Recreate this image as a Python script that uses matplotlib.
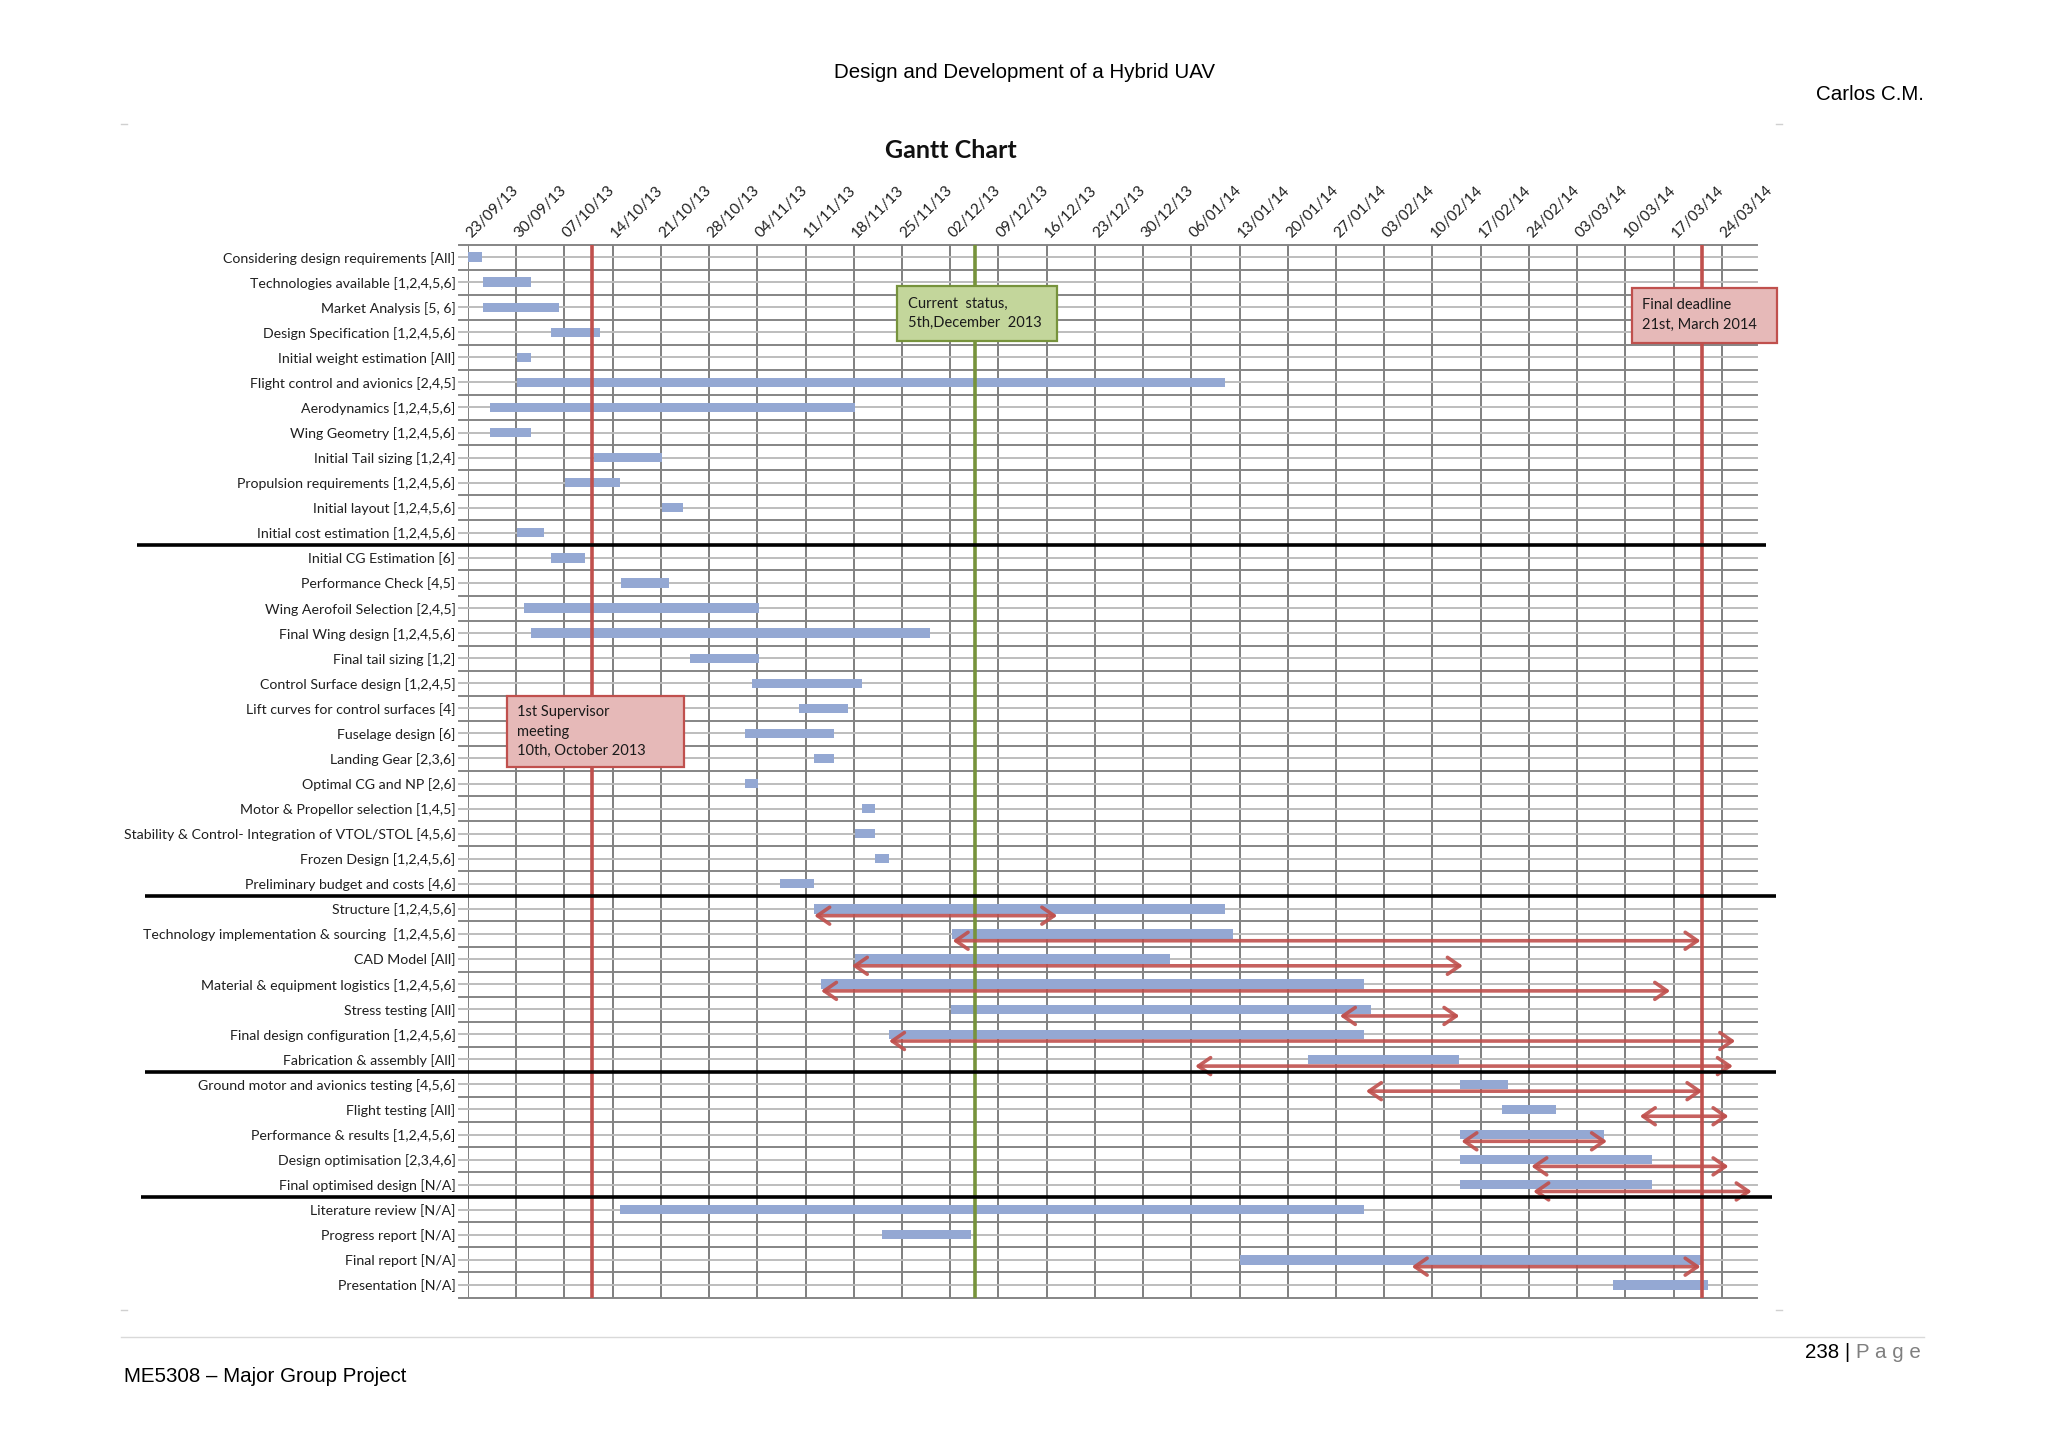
import matplotlib.pyplot as plt
from matplotlib.patches import Rectangle
from matplotlib.lines import Line2D
from matplotlib.transforms import ScaledTranslation

# week columns (weeks counted from 23/09/13)
week_labels = ['23/09/13', '30/09/13', '07/10/13', '14/10/13', '21/10/13', '28/10/13',
               '04/11/13', '11/11/13', '18/11/13', '25/11/13', '02/12/13', '09/12/13',
               '16/12/13', '23/12/13', '30/12/13', '06/01/14', '13/01/14', '20/01/14',
               '27/01/14', '03/02/14', '10/02/14', '17/02/14', '24/02/14', '03/03/14',
               '10/03/14', '17/03/14', '24/03/14']

tasks = [
    'Considering design requirements [All]',
    'Technologies available [1,2,4,5,6]',
    'Market Analysis [5, 6]',
    'Design Specification [1,2,4,5,6]',
    'Initial weight estimation [All]',
    'Flight control and avionics [2,4,5]',
    'Aerodynamics [1,2,4,5,6]',
    'Wing Geometry [1,2,4,5,6]',
    'Initial Tail sizing [1,2,4]',
    'Propulsion requirements [1,2,4,5,6]',
    'Initial layout [1,2,4,5,6]',
    'Initial cost estimation [1,2,4,5,6]',
    'Initial CG Estimation [6]',
    'Performance Check [4,5]',
    'Wing Aerofoil Selection [2,4,5]',
    'Final Wing design [1,2,4,5,6]',
    'Final tail sizing [1,2]',
    'Control Surface design [1,2,4,5]',
    'Lift curves for control surfaces [4]',
    'Fuselage design [6]',
    'Landing Gear [2,3,6]',
    'Optimal CG and NP [2,6]',
    'Motor & Propellor selection [1,4,5]',
    'Stability & Control- Integration of VTOL/STOL [4,5,6]',
    'Frozen Design [1,2,4,5,6]',
    'Preliminary budget and costs [4,6]',
    'Structure [1,2,4,5,6]',
    'Technology implementation & sourcing  [1,2,4,5,6]',
    'CAD Model [All]',
    'Material & equipment logistics [1,2,4,5,6]',
    'Stress testing [All]',
    'Final design configuration [1,2,4,5,6]',
    'Fabrication & assembly [All]',
    'Ground motor and avionics testing [4,5,6]',
    'Flight testing [All]',
    'Performance & results [1,2,4,5,6]',
    'Design optimisation [2,3,4,6]',
    'Final optimised design [N/A]',
    'Literature review [N/A]',
    'Progress report [N/A]',
    'Final report [N/A]',
    'Presentation [N/A]',
]

bar_start = [0.00, 0.31, 0.31, 1.72, 1.01, 1.01, 0.45, 0.45, 2.61, 2.02, 4.03, 1.01,
             1.72, 3.17, 1.17, 1.31, 4.61, 5.88, 6.87, 5.74, 7.18, 5.74, 8.17, 8.03,
             8.45, 6.46, 7.18, 10.03, 8.03, 7.32, 10.02, 8.73, 17.42, 20.58, 21.44,
             20.58, 20.58, 20.58, 3.16, 8.59, 16.01, 23.74]
bar_end = [0.30, 1.30, 1.88, 2.74, 1.30, 15.69, 8.03, 1.30, 4.02, 3.16, 4.46, 1.58,
           2.43, 4.16, 6.03, 9.59, 6.03, 8.17, 7.87, 7.59, 7.59, 6.02, 8.45, 8.45,
           8.72, 7.18, 15.69, 15.87, 14.55, 18.58, 18.73, 18.58, 20.56, 21.57, 22.56,
           23.55, 24.55, 24.55, 18.58, 10.44, 25.56, 25.72]

# red double arrows (row index, start week, end week)
arrow_rows = [26, 27, 28, 29, 30, 31, 32, 33, 34, 35, 36, 37, 40]
arrow_start = [7.18, 10.05, 7.96, 7.32, 18.08, 8.73, 15.08, 18.62, 24.30, 20.60, 22.05, 22.09, 19.57]
arrow_end = [12.22, 25.56, 20.63, 24.93, 20.56, 26.28, 26.23, 25.60, 26.14, 23.62, 26.14, 26.62, 25.56]

# milestones
milestone_week = [2.57, 10.51, 25.59]
milestone_text = ['1st Supervisor\nmeeting\n10th, October 2013',
                  'Current  status,\n5th,December  2013',
                  'Final deadline\n21st, March 2014']

section_breaks = [11.5, 25.5, 32.5, 37.5]

W, H = 2048, 1448


def fx(px):
    return px / W


def fy(py):
    return 1 - py / H


BLUE = '#94A8D3'
RED = '#C0504D'
GREEN = '#77933C'
LABEL = '#1f1f1f'

fig = plt.figure(figsize=(20.48, 14.48), dpi=100)
fig.patch.set_facecolor('white')

x_left, x_right = 468, 1757
y_top, y_bot = 244.5, 1297.5
ax = fig.add_axes([fx(x_left), fy(y_bot), (x_right - x_left) / W, (y_bot - y_top) / H])
n = len(tasks)
xmax = 26.73
ax.set_xlim(0, xmax)
ax.set_ylim(n - 0.5, -0.5)

# grid
ax.set_xticks(range(len(week_labels)))
ax.set_xticklabels(week_labels, rotation=45, ha='left', rotation_mode='anchor',
                   fontsize=11, family='Lato', color=LABEL)
ax.xaxis.tick_top()
ax.tick_params(axis='x', length=0, pad=3)
shift = ScaledTranslation(4 / 72, 0, fig.dpi_scale_trans)
for lbl in ax.get_xticklabels():
    lbl.set_transform(lbl.get_transform() + shift)
ax.grid(axis='x', color='#7F7F7F', lw=1.4, zorder=0)
ax.set_axisbelow(True)

ax.set_yticks(range(n))
ax.set_yticklabels(tasks, fontsize=10.2, family='Lato', color=LABEL)
ax.tick_params(axis='y', length=0, pad=9)
for s in ax.spines.values():
    s.set_visible(False)

ytr = ax.get_yaxis_transform()
for i in range(n + 1):
    ax.plot([-0.007, 1], [i - 0.5] * 2, transform=ytr, color='#858585', lw=1.4,
            zorder=1, clip_on=False)
for i in range(n):
    ax.plot([-0.007, 1], [i] * 2, transform=ytr, color='#BDBDBD', lw=1.4,
            zorder=1, clip_on=False)

# bars
widths = [e - s for s, e in zip(bar_start, bar_end)]
ax.barh(range(n), widths, left=bar_start, height=0.37, color=BLUE, zorder=3)

# milestone lines
for w, c in zip(milestone_week, [RED, GREEN, RED]):
    ax.axvline(w, color=c, lw=2.6, zorder=4)

# arrows
for r, s, e in zip(arrow_rows, arrow_start, arrow_end):
    ax.annotate('', xy=(e, r + 0.27), xytext=(s, r + 0.27),
                arrowprops=dict(arrowstyle='<->,head_length=0.55,head_width=0.38',
                                color=RED, lw=2.6, shrinkA=0, shrinkB=0,
                                mutation_scale=16, alpha=0.9),
                zorder=5, annotation_clip=False)

# milestone boxes
box_width = [3.68, 3.31, 3.02]
box_rows = [(17.51, 20.34), (1.16, 3.35), (1.22, 3.42)]
box_face = ['#E6B9B8', '#C3D69B', '#E6B9B8']
box_edge = [RED, GREEN, RED]
box_shift = [0.07, 0.05, 0.05]
for w, txt, bw, (t, b), fc, ec, sh in zip(milestone_week, milestone_text, box_width,
                                          box_rows, box_face, box_edge, box_shift):
    x0 = w - bw / 2 + sh
    ax.add_patch(Rectangle((x0, t), bw, b - t, facecolor=fc, edgecolor=ec, lw=1.6,
                           zorder=6, clip_on=False))
    ax.text(x0 + 0.22, (t + b) / 2, txt, ha='left', va='center', fontsize=10.5,
            family='Lato', color='#1a1a1a', linespacing=1.5, zorder=7)

# section separators
sep_x = [(-0.2568, 1.007), (-0.2506, 1.0147), (-0.2506, 1.0147), (-0.2537, 1.0116)]
for y, (a, b) in zip(section_breaks, sep_x):
    ax.plot([a, b], [y, y], transform=ytr, color='black', lw=2.6, zorder=8,
            clip_on=False, solid_capstyle='butt')

# page text
fig.text(fx(1024), fy(72), 'Design and Development of a Hybrid UAV', ha='center',
         va='center', fontsize=14.8, family='Liberation Sans')
fig.text(fx(1924), fy(95), 'Carlos C.M.', ha='right', va='center', fontsize=14.8,
         family='Liberation Sans')
fig.text(fx(951), fy(150), 'Gantt Chart', ha='center', va='center', fontsize=18,
         fontweight='bold', family='Lato', color='#111111')
fig.add_artist(Line2D([fx(121), fx(1924)], [fy(1337)] * 2, color='#D9D9D9', lw=1))
fig.text(fx(124), fy(1376), 'ME5308 \u2013 Major Group Project', ha='left', va='center',
         fontsize=14.8, family='Liberation Sans')
fig.text(fx(1850), fy(1353), '238 |', ha='right', va='center', fontsize=14.8,
         family='Liberation Sans')
fig.text(fx(1856), fy(1353), 'P a g e', ha='left', va='center', fontsize=14.8,
         family='Liberation Sans', color='#7F7F7F')

# faint corner handles of the chart object
for cx, cy in [(124, 124), (1779, 124), (124, 1310), (1779, 1310)]:
    fig.add_artist(Line2D([fx(cx - 3), fx(cx + 3)], [fy(cy)] * 2, color='#D0D0D0', lw=1))

fig.savefig('out.png', dpi=100)
